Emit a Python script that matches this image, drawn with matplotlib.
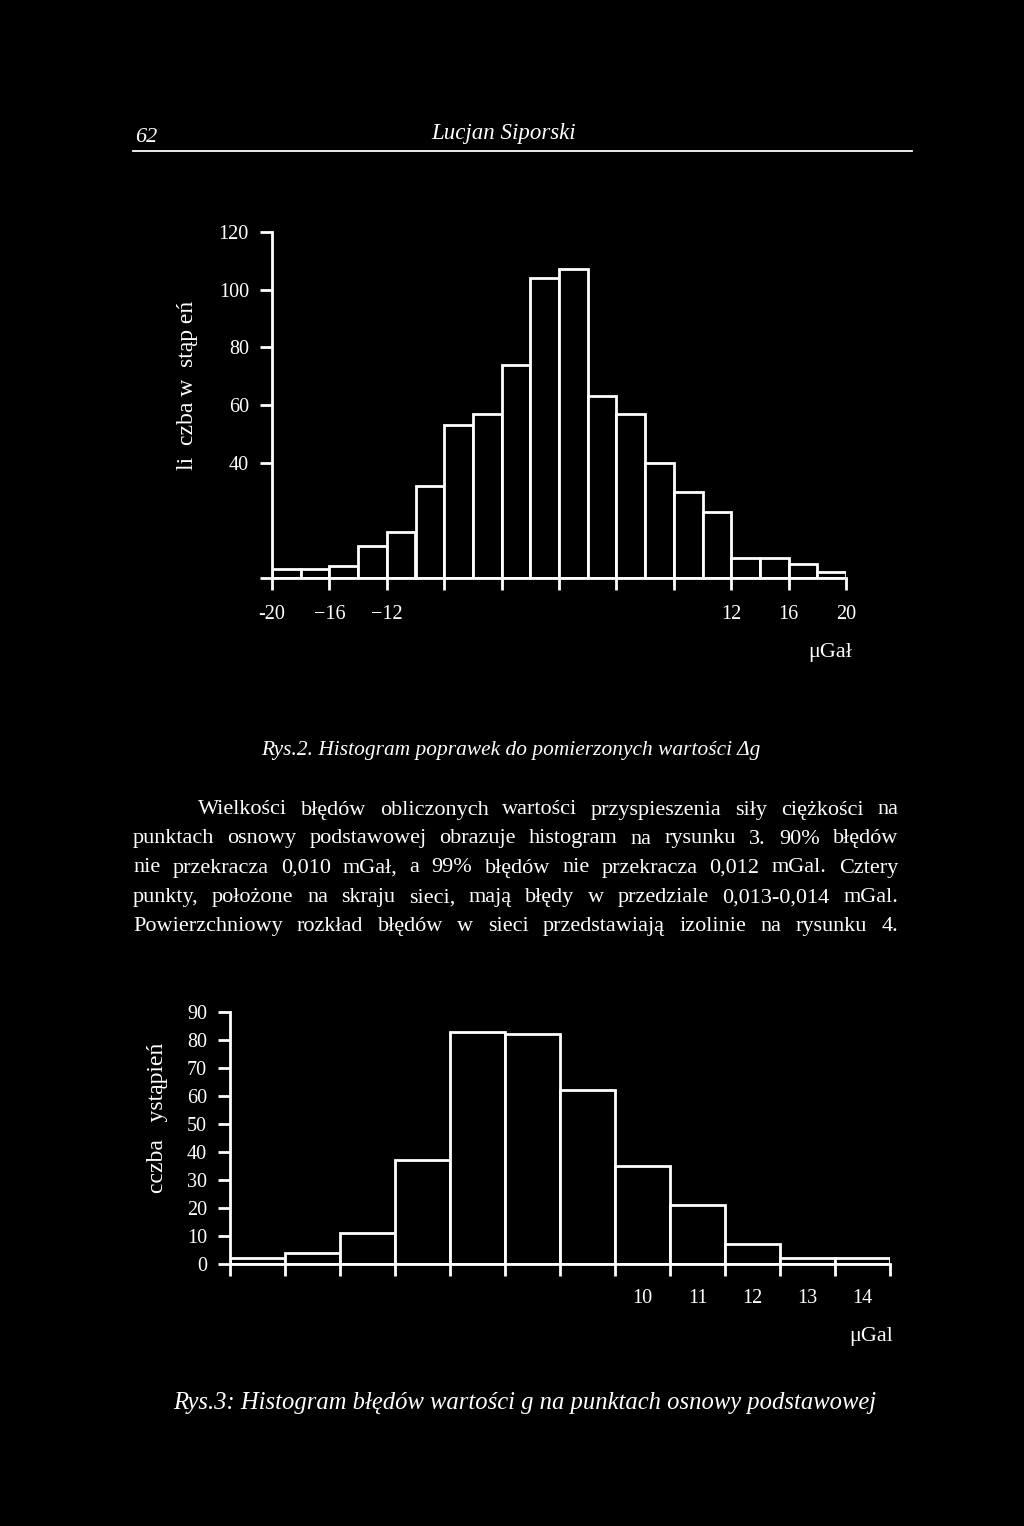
import matplotlib
matplotlib.use('Agg')
import matplotlib.pyplot as plt
import numpy as np

# --- dane ---
# Rys.2: poprawki Δg, klasy co 2 µGal od -20 do 20
rys2_krawedzie = np.arange(-20, 20, 2)
rys2_liczby = [3, 3, 4, 11, 16, 32, 53, 57, 74, 104, 107, 63, 57, 40, 30, 23, 7, 7, 5, 2]
rys2_xticks = [-20, -16, -12, -8, -4, 0, 4, 8, 12, 16, 20]
rys2_xlabels = ['-20', '\u221216', '\u221212', '', '', '', '', '', '12', '16', '20']
rys2_yticks = [0, 40, 60, 80, 100, 120]
rys2_ylabels = ['', '40', '60', '80', '100', '120']

# Rys.3: błędy g, klasy co 1 µGal (3..14)
rys3_klasy = np.arange(3, 15)
rys3_liczby = [2, 4, 11, 37, 83, 82, 62, 35, 21, 7, 2, 2]
rys3_opisane = [10, 11, 12, 13, 14]
rys3_yticks = list(range(0, 100, 10))

naglowek_strona = '62'
naglowek_autor = 'Lucjan Siporski'
podpis2 = 'Rys.2. Histogram poprawek do pomierzonych wartości \u0394g'
podpis3 = 'Rys.3: Histogram błędów wartości g na punktach osnowy podstawowej'
akapit = [
    'Wielkości błędów obliczonych wartości przyspieszenia siły ciężkości na',
    'punktach osnowy podstawowej obrazuje histogram na rysunku 3. 90% błędów',
    'nie przekracza 0,010 mGał, a 99% błędów nie przekracza 0,012 mGal. Cztery',
    'punkty, położone na skraju sieci, mają błędy w przedziale 0,013-0,014 mGal.',
    'Powierzchniowy rozkład błędów w sieci przedstawiają izolinie na rysunku 4.',
]

W, H = 1024, 1526
plt.rcParams['font.family'] = ['Liberation Serif', 'DejaVu Serif']
plt.rcParams['text.color'] = 'white'

fig = plt.figure(figsize=(W / 100, H / 100), dpi=100, facecolor='black')


def fx(x):
    return x / W


def fy(y):
    return 1 - y / H


def styl_osi(ax):
    ax.set_facecolor('black')
    for s in ['top', 'right']:
        ax.spines[s].set_visible(False)
    for s in ['left', 'bottom']:
        ax.spines[s].set_color('white')
        ax.spines[s].set_linewidth(2)
    ax.tick_params(which='both', colors='white', width=2, length=8.6, direction='out')


# --- nagłówek ---
fig.text(fx(146), fy(137), naglowek_strona, fontsize=16, style='italic', ha='center', va='center')
fig.text(fx(504), fy(134), naglowek_autor, fontsize=16.5, style='italic', ha='center', va='center')
fig.add_artist(plt.Line2D([fx(133), fx(912)], [fy(151), fy(151)], color='white', lw=1.3))

# --- Rys.2 ---
ax1 = fig.add_axes([fx(272), fy(578), fx(846) - fx(272), fy(232) - fy(578)])
styl_osi(ax1)
ax1.bar(rys2_krawedzie, rys2_liczby, width=2, align='edge', facecolor='black',
        edgecolor='white', linewidth=2)
ax1.set_xlim(-20, 20)
ax1.set_ylim(0, 120)
ax1.set_xticks(rys2_xticks, rys2_xlabels, fontsize=14.5)
ax1.set_yticks(rys2_yticks, rys2_ylabels, fontsize=14.5)
ax1.tick_params(axis='x', pad=11)
ax1.tick_params(axis='y', pad=8)
ax1.spines['left'].set_bounds(0, 120)
fig.text(fx(188), fy(385), 'li  czba w  stąp eń', fontsize=17, rotation=90,
         ha='center', va='center')
fig.text(fx(852), fy(653), '\u03bcGał', fontsize=16, ha='right', va='center')
fig.text(fx(511), fy(750), podpis2, fontsize=15.4, style='italic', ha='center', va='center')

# --- akapit, wyjustowany ---
renderer = fig.canvas.get_renderer()
linie_y = [810, 839, 868, 898, 927]
for i, (linia, y) in enumerate(zip(akapit, linie_y)):
    x0 = 198 if i == 0 else 133
    x1 = 898
    slowa = linia.split()
    teksty = [fig.text(0, fy(y), s, fontsize=16, ha='left', va='center') for s in slowa]
    szer = [t.get_window_extent(renderer).width for t in teksty]
    odstep = (x1 - x0 - sum(szer)) / (len(slowa) - 1)
    x = x0
    for t, w in zip(teksty, szer):
        t.set_x(fx(x))
        x += w + odstep

# --- Rys.3 ---
ax2 = fig.add_axes([fx(230), fy(1264), fx(890) - fx(230), fy(1012) - fy(1264)])
styl_osi(ax2)
ax2.bar(rys3_klasy, rys3_liczby, width=1, align='center', facecolor='black',
        edgecolor='white', linewidth=2)
ax2.set_xlim(2.5, 14.5)
ax2.set_ylim(0, 90)
ax2.set_xticks(np.arange(2.5, 15, 1), [''] * 13)
ax2.set_xticks(rys3_opisane, [str(v) for v in rys3_opisane], minor=True, fontsize=14.5)
ax2.tick_params(axis='x', which='minor', length=0, pad=18)
ax2.set_yticks(rys3_yticks, [str(v) for v in rys3_yticks], fontsize=14.5)
ax2.tick_params(axis='y', pad=8)
fig.text(fx(157), fy(1118), 'cczba   ystąpień', fontsize=17, rotation=90,
         ha='center', va='center')
fig.text(fx(893), fy(1336), '\u03bcGal', fontsize=16, ha='right', va='center')
fig.text(fx(525), fy(1403), podpis3, fontsize=17.7, style='italic', ha='center', va='center')

fig.savefig('out.png', dpi=100, facecolor='black')
